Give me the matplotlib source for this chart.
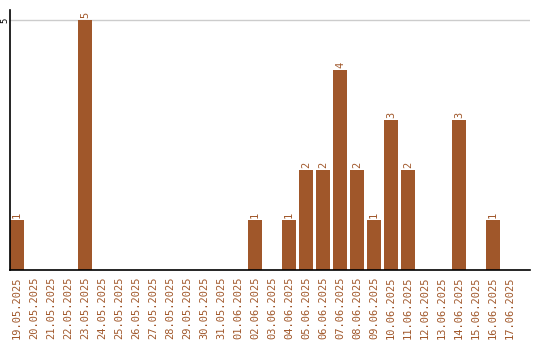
import matplotlib
matplotlib.use("Agg")
import matplotlib.pyplot as plt
import pandas as pd

dates = [d.strftime("%d.%m.%Y") for d in pd.date_range("2025-05-19", "2025-06-17")]
value_by_date = {
    "19.05.2025": 1, "23.05.2025": 5, "02.06.2025": 1, "04.06.2025": 1,
    "05.06.2025": 2, "06.06.2025": 2, "07.06.2025": 4, "08.06.2025": 2,
    "09.06.2025": 1, "10.06.2025": 3, "11.06.2025": 2, "14.06.2025": 3,
    "16.06.2025": 1,
}
values = [value_by_date.get(d, 0) for d in dates]

color = "#A0572A"
fig = plt.figure(figsize=(5.4, 3.4), dpi=100)
ax = fig.add_axes([10/540, 70/340, 520/540, 260/340])
x = list(range(len(dates)))
ax.bar(x, values, width=14/17, color=color, zorder=2)
for xi, v in zip(x, values):
    if v > 0:
        ax.text(xi, v + 0.04, str(v), rotation=90, ha="center", va="bottom",
                color=color, fontsize=7.5, family="DejaVu Sans Mono")
ax.set_xlim(-0.41, 30.18)
ax.set_ylim(0, 5.2)
ax.axhline(5, color="#cccccc", lw=1, zorder=1)
ax.set_yticks([5])
ax.set_yticklabels(["5"], rotation=90, va="center", fontsize=6.5, family="DejaVu Sans Mono")
ax.tick_params(axis="y", length=0, pad=0.5)
ax.set_xticks(x)
ax.set_xticklabels(dates, rotation=90, color=color, fontsize=7.5, family="DejaVu Sans Mono")
ax.tick_params(axis="x", length=0, pad=4.5)
for s in ["top", "right"]:
    ax.spines[s].set_visible(False)
ax.spines["left"].set_linewidth(1.2)
ax.spines["bottom"].set_linewidth(1.2)
fig.savefig("out.png", dpi=100)
